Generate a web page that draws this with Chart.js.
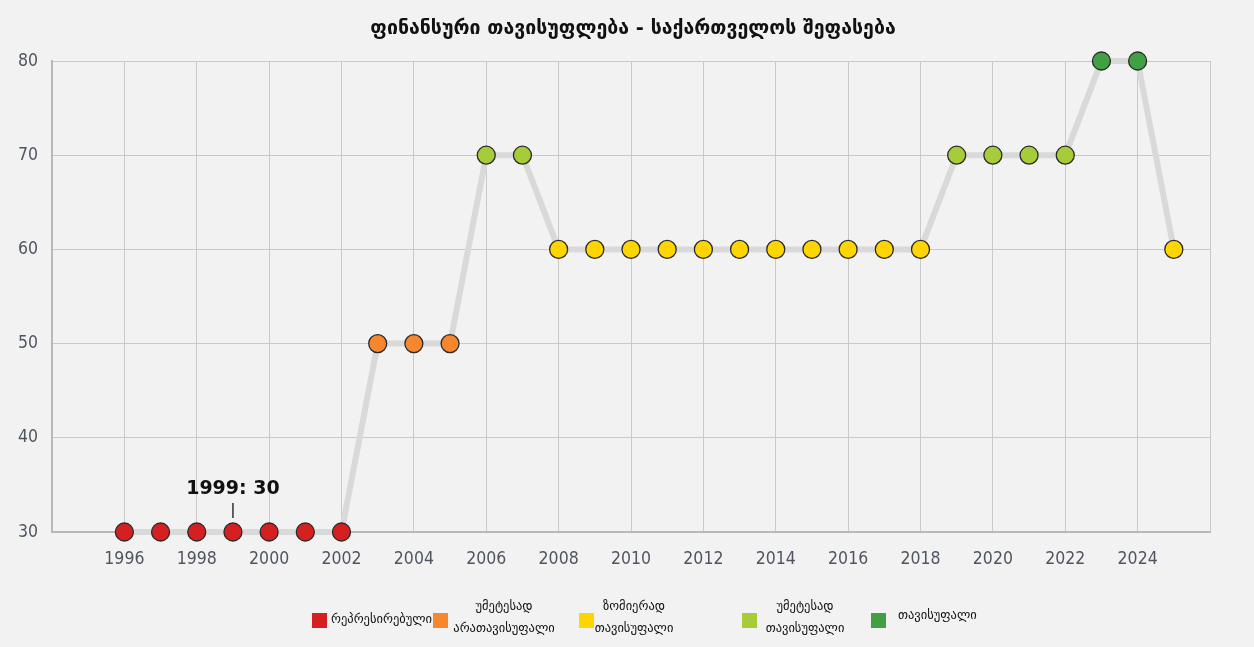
<!DOCTYPE html>
<html><head><meta charset="utf-8">
<script src="https://cdn.jsdelivr.net/npm/chart.js@4/dist/chart.umd.min.js"></script>
<style>
html,body{margin:0;padding:0;background:#f2f2f2;}
#wrap{position:relative;width:1254px;height:647px;}
</style></head>
<body><div id="wrap"><canvas id="c" width="1254" height="647"></canvas></div>
<script>
const titleText = 'ფინანსური თავისუფლება - საქართველოს შეფასება';
const years = [1996,1997,1998,1999,2000,2001,2002,2003,2004,2005,2006,2007,2008,2009,2010,2011,2012,2013,2014,2015,2016,2017,2018,2019,2020,2021,2022,2023,2024,2025];
const scores = [30,30,30,30,30,30,30,50,50,50,70,70,60,60,60,60,60,60,60,60,60,60,60,70,70,70,70,80,80,60];
const categories = [0,0,0,0,0,0,0,1,1,1,3,3,2,2,2,2,2,2,2,2,2,2,2,3,3,3,3,4,4,2];
const categoryLabels = [['რეპრესირებული'],['უმეტესად','არათავისუფალი'],['ზომიერად','თავისუფალი'],['უმეტესად','თავისუფალი'],['თავისუფალი']];
const categoryColors = ['#d42020','#f6872e','#ffd500','#a6cd39','#40a042'];
const yTicks = [30,40,50,60,70,80];
const highlightYear = 1999;

const GEO = '"DejaVu Sans", "Noto Sans", sans-serif';
const NUM = '"Liberation Sans Narrow", "DejaVu Sans Condensed", sans-serif';

const points = years.map((y,i)=>({x:y,y:scores[i]}));

const overlay = {
  id:'overlay',
  afterDraw(chart){
    const ctx = chart.ctx;
    const xs = chart.scales.x, ys = chart.scales.y;
    ctx.save();
    // title
    ctx.fillStyle = '#111';
    ctx.font = 'bold 19.5px ' + GEO;
    ctx.textAlign = 'center'; ctx.textBaseline = 'middle';
    ctx.fillText(titleText, 633, 29);
    // annotation
    const hi = years.indexOf(highlightYear);
    const px = xs.getPixelForValue(years[hi]);
    const py = ys.getPixelForValue(scores[hi]);
    ctx.strokeStyle = '#333'; ctx.lineWidth = 1.5;
    ctx.beginPath(); ctx.moveTo(px, py-29); ctx.lineTo(px, py-14); ctx.stroke();
    ctx.fillStyle = '#111';
    ctx.font = 'bold 19px "DejaVu Sans", sans-serif';
    ctx.textAlign = 'center'; ctx.textBaseline = 'alphabetic';
    ctx.fillText(highlightYear + ': ' + scores[hi], px, py-38);
    // legend
    const boxX = [312,433,579,742,871];
    const textX = [331,504,634,805,898];
    ctx.font = '12.5px ' + GEO;
    categoryLabels.forEach((lab,i)=>{
      ctx.fillStyle = categoryColors[i];
      ctx.fillRect(boxX[i], 613, 15, 15);
      ctx.fillStyle = '#111';
      ctx.textBaseline = 'middle';
      if (lab.length === 1) {
        ctx.textAlign = 'left';
        ctx.fillText(lab[0], textX[i], i===4 ? 616 : 620);
      } else {
        ctx.textAlign = 'center';
        ctx.fillText(lab[0], textX[i], 607);
        ctx.fillText(lab[1], textX[i], 629);
      }
    });
    ctx.restore();
  }
};

new Chart(document.getElementById('c'), {
  type:'line',
  data:{datasets:[{
    data:points,
    borderColor:'#d9d9d9',
    borderWidth:6,
    pointRadius:9,
    pointHoverRadius:9,
    pointBackgroundColor:categories.map(c=>categoryColors[c]),
    pointBorderColor:'#2a2a2a',
    pointBorderWidth:1.3,
    tension:0,
    clip:false
  }]},
  options:{
    responsive:false,
    animation:false,
    events:[],
    layout:{padding:{top:61,right:44,left:0,bottom:0}},
    plugins:{legend:{display:false},tooltip:{enabled:false},title:{display:false}},
    scales:{
      x:{type:'linear',min:1994,max:2026,
        afterFit(s){s.height=115;},
        afterBuildTicks(s){s.ticks=[];for(let v=1994;v<=2026;v+=2)s.ticks.push({value:v});},
        grid:{color:'#c9c9c9',lineWidth:1,drawTicks:false},
        border:{color:'#b8b8b8',width:2},
        ticks:{padding:17,color:'#4f5560',font:{family:NUM,size:17.5},
          callback:(v)=> (v===1994||v===2026)?'':String(v), maxRotation:0, autoSkip:false}
      },
      y:{min:30,max:80,
        afterFit(s){s.width=52;},
        afterBuildTicks(s){s.ticks=yTicks.map(v=>({value:v}));},
        grid:{color:'#c9c9c9',lineWidth:1,drawTicks:false},
        border:{color:'#b8b8b8',width:2},
        ticks:{padding:14,color:'#4f5560',font:{family:NUM,size:17.5}}
      }
    }
  },
  plugins:[overlay]
});
</script></body></html>
